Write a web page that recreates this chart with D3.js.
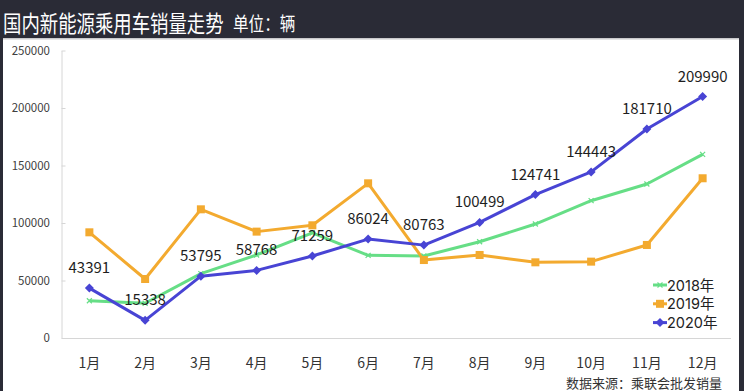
<!DOCTYPE html>
<html><head><meta charset="utf-8">
<script src="https://cdn.jsdelivr.net/npm/d3@7"></script>
<style>
html,body{margin:0;padding:0;background:#2a2b36;}
svg{display:block;font-family:"Noto Sans CJK SC","Noto Sans",sans-serif;}
</style></head>
<body>
<svg id="chart" width="744" height="391"></svg>
<script>
const months = ["1月","2月","3月","4月","5月","6月","7月","8月","9月","10月","11月","12月"];
const sales2018 = [32400,30200,56000,72200,91500,71900,71300,83700,99100,119400,133900,159700];
const sales2019 = [91900,51300,111900,92500,98000,134500,67800,72200,65800,66400,80900,138900];
const sales2020 = [43391,15338,53795,58768,71259,86024,80763,100499,124741,144443,181710,209990];
const yTicks = [0,50000,100000,150000,200000,250000];
const seriesNames = ["2018年","2019年","2020年"];
const colors = ["#66de86","#f3aa2f","#4844d4"];

const svg = d3.select("#chart");
svg.append("rect").attr("x",0).attr("y",0).attr("width",744).attr("height",391).attr("fill","#2a2b36");
svg.append("rect").attr("x",3).attr("y",38).attr("width",736).attr("height",353).attr("fill","#ffffff");
svg.append("rect").attr("x",3).attr("y",38).attr("width",736).attr("height",1.5).attr("fill","#c9c9cc");

svg.append("text").attr("transform","translate(3,32) scale(0.8,1)").attr("fill","#ffffff").attr("font-size",23)
  .text("国内新能源乘用车销量走势");
svg.append("text").attr("transform","translate(233,30.5) scale(0.82,1)").attr("fill","#ffffff").attr("font-size",19)
  .text("单位：辆");

const x = d3.scaleBand().domain(months).range([61.5,730.5]).paddingInner(0).paddingOuter(0);
const y = d3.scaleLinear().domain([0,250000]).range([338,50.5]);
const cx = m => x(m) + x.bandwidth()/2;

// Y axis
const ya = svg.append("g").attr("transform","translate(61.5,0)")
  .call(d3.axisLeft(y).tickValues(yTicks).tickFormat(d3.format("d")).tickSizeInner(-4).tickSizeOuter(0).tickPadding(11.5));
ya.select(".domain").attr("stroke","#d6d6d6");
ya.selectAll(".tick line").attr("stroke","#d6d6d6");
ya.selectAll(".tick text").attr("fill","#404040").attr("font-size",11.5).attr("font-family","'Noto Sans CJK SC',sans-serif");

// X axis
const xa = svg.append("g").attr("transform","translate(0,338)")
  .call(d3.axisBottom(x).tickSize(0).tickPadding(20));
xa.select(".domain").attr("stroke","#d6d6d6");
xa.selectAll(".tick text").attr("fill","#333").attr("font-size",14).attr("font-family","'Noto Sans CJK SC',sans-serif");

const allSeries = [sales2018, sales2019, sales2020];
const line = d3.line().x((d,i)=>cx(months[i])).y(d=>y(d));

allSeries.forEach((s,k)=>{
  svg.append("path").datum(s).attr("d",line).attr("fill","none")
    .attr("stroke",colors[k]).attr("stroke-width",3).attr("stroke-linejoin","round");
});

function marker(g, k, px, py){
  if(k===0){
    g.append("path").attr("d",`M${px-2.5},${py-2.5}L${px+2.5},${py+2.5}M${px-2.5},${py+2.5}L${px+2.5},${py-2.5}`)
     .attr("stroke",colors[0]).attr("stroke-width",1.2);
  } else if(k===1){
    g.append("rect").attr("x",px-4).attr("y",py-4).attr("width",8).attr("height",8).attr("fill",colors[1]);
  } else {
    g.append("path").attr("d",`M${px},${py-4.5}L${px+4.5},${py}L${px},${py+4.5}L${px-4.5},${py}Z`).attr("fill",colors[2]);
  }
}
const mg = svg.append("g");
allSeries.forEach((s,k)=>{
  s.forEach((v,i)=> marker(mg,k,cx(months[i]),y(v)));
});

// data labels for 2020
svg.append("g").selectAll("text").data(sales2020).join("text")
  .attr("x",(d,i)=>cx(months[i])).attr("y",d=>y(d)-15)
  .attr("text-anchor","middle").attr("font-size",15).attr("fill","#1e1e1e")
  .text(d=>d);

// legend
const lg = svg.append("g");
seriesNames.forEach((n,k)=>{
  const ly = 285 + k*18.8;
  lg.append("line").attr("x1",653).attr("x2",667).attr("y1",ly).attr("y2",ly).attr("stroke",colors[k]).attr("stroke-width",3);
  marker(lg,k,660,ly);
  lg.append("text").attr("x",667).attr("y",ly+5.5).attr("font-size",14.5)
    .attr("font-family","Inter,'Noto Sans CJK SC',sans-serif").attr("fill","#222").text(n);
});

svg.append("text").attr("x",722).attr("y",388).attr("text-anchor","end").attr("font-size",13).attr("fill","#333")
  .text("数据来源：乘联会批发销量");
</script>
</body></html>
